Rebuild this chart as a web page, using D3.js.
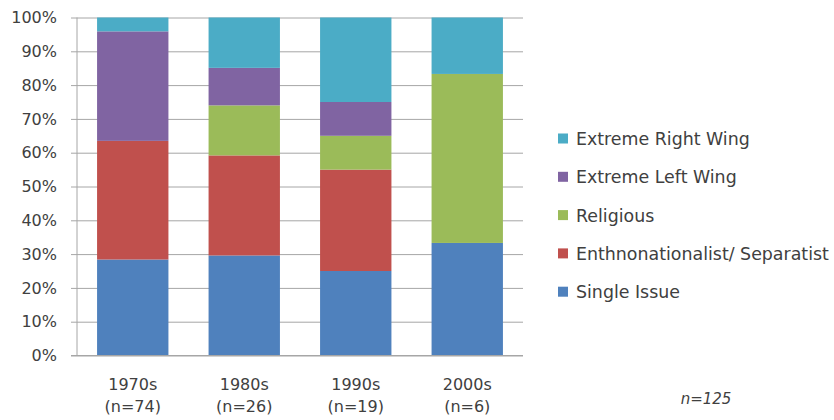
<!DOCTYPE html>
<html>
<head>
<meta charset="utf-8">
<script src="https://cdn.jsdelivr.net/npm/d3@7/dist/d3.min.js"></script>
<style>
  html, body { margin: 0; padding: 0; background: #fff; }
  svg text { font-family: "DejaVu Sans", Verdana, sans-serif; fill: #404040; }
</style>
</head>
<body>
<svg id="chart" width="834" height="420"></svg>
<script>
// Decades and their sample sizes
const decades = ["1970s", "1980s", "1990s", "2000s"];
const sampleSizes = ["(n=74)", "(n=26)", "(n=19)", "(n=6)"];

// Share of groups (%) by type, per decade — stacked bottom to top
const seriesNames = ["Single Issue", "Enthnonationalist/ Separatist", "Religious", "Extreme Left Wing", "Extreme Right Wing"];
const singleIssue   = [28.4, 29.6, 25.0, 33.3];
const ethnoSep      = [35.1, 29.6, 30.0, 0.0];
const religious     = [0.0, 14.8, 10.0, 50.0];
const leftWing      = [32.4, 11.1, 10.0, 0.0];
const rightWing     = [4.1, 14.9, 25.0, 16.7];
const seriesColors  = ["#4F81BD", "#C0504D", "#9BBB59", "#8064A2", "#4BACC6"];

const yTicks = [0, 10, 20, 30, 40, 50, 60, 70, 80, 90, 100];
const totalNote = "n=125";

const FONT = "'DejaVu Sans', Verdana, sans-serif";
const svg = d3.select("#chart");
const plot = { left: 77, right: 523, top: 17.5, bottom: 355.5 };

const rows = decades.map((d, i) => ({
  decade: d,
  "Single Issue": singleIssue[i],
  "Enthnonationalist/ Separatist": ethnoSep[i],
  "Religious": religious[i],
  "Extreme Left Wing": leftWing[i],
  "Extreme Right Wing": rightWing[i]
}));

const stacked = d3.stack().keys(seriesNames)(rows);

const x = d3.scaleBand().domain(decades).range([plot.left, plot.right]).paddingInner(0.36).paddingOuter(0.18);
const y = d3.scaleLinear().domain([0, 100]).range([plot.bottom, plot.top]);
const color = d3.scaleOrdinal().domain(seriesNames).range(seriesColors);

// Horizontal gridlines with tick labels
const yAxis = d3.axisLeft(y).tickValues(yTicks).tickFormat(d => d + "%")
  .tickSize(-(plot.right - plot.left)).tickPadding(20);
const gy = svg.append("g").attr("transform", `translate(${plot.left},0)`).call(yAxis);
gy.select(".domain").remove();
gy.selectAll(".tick line").attr("stroke", "#a6a6a6").attr("stroke-width", 1).attr("x1", -6);
gy.selectAll(".tick text").attr("font-size", 16).attr("fill", "#404040").attr("x", -20)
  .style("font-family", FONT);

// Stacked bars
svg.append("g").selectAll("g").data(stacked).join("g")
  .attr("fill", d => color(d.key))
  .selectAll("rect").data(d => d).join("rect")
  .attr("x", d => x(d.data.decade))
  .attr("width", x.bandwidth())
  .attr("y", d => y(d[1]))
  .attr("height", d => Math.max(0, y(d[0]) - y(d[1])));

// Axis lines
svg.append("line").attr("x1", plot.left).attr("x2", plot.left)
  .attr("y1", plot.top).attr("y2", plot.bottom).attr("stroke", "#a6a6a6");
svg.append("line").attr("x1", plot.left - 6).attr("x2", plot.right)
  .attr("y1", plot.bottom).attr("y2", plot.bottom).attr("stroke", "#a6a6a6");

// Category labels (two lines)
const cat = svg.append("g").selectAll("text").data(decades).join("text")
  .attr("text-anchor", "middle")
  .attr("font-size", 16)
  .attr("x", d => x(d) + x.bandwidth() / 2);
cat.append("tspan").attr("x", d => x(d) + x.bandwidth() / 2).attr("y", 390).text(d => d);
cat.append("tspan").attr("x", d => x(d) + x.bandwidth() / 2).attr("y", 412).text((d, i) => sampleSizes[i]);

// Total sample note
svg.append("text").attr("x", 706).attr("y", 404).attr("text-anchor", "middle")
  .attr("font-size", 15).attr("font-style", "italic").text(totalNote);

// Legend, listed top series first
const legendItems = seriesNames.slice().reverse();
const lg = svg.append("g").selectAll("g").data(legendItems).join("g")
  .attr("transform", (d, i) => `translate(558,${138.5 + i * 38.3})`);
lg.append("rect").attr("x", 0).attr("y", -5).attr("width", 10).attr("height", 10)
  .attr("fill", d => color(d));
lg.append("text").attr("x", 18).attr("y", 6.5).attr("font-size", 17.4).text(d => d);
</script>
</body>
</html>
